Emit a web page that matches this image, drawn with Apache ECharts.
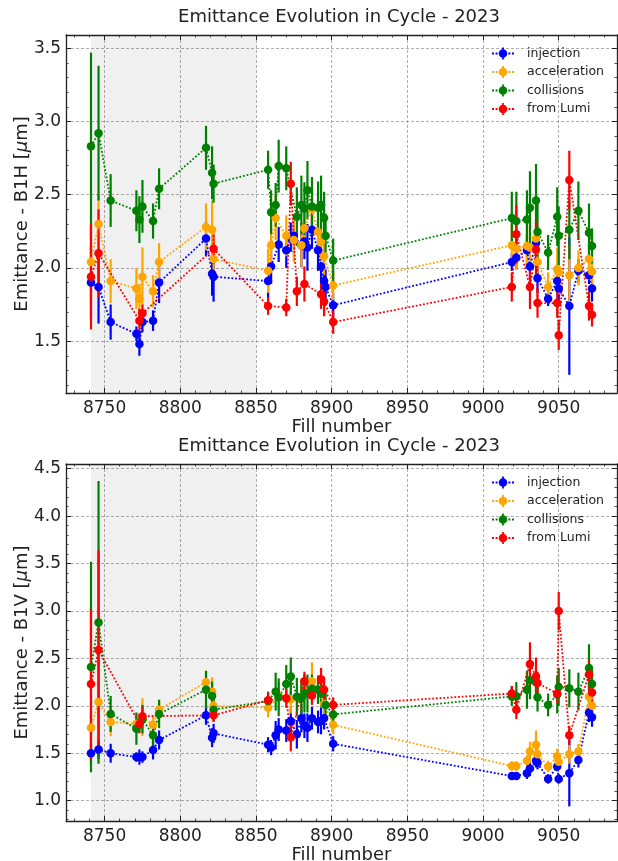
<!DOCTYPE html>
<html><head><meta charset="utf-8">
<script src="https://cdn.jsdelivr.net/npm/echarts@6/dist/echarts.min.js"></script>
<style>html,body{margin:0;padding:0;background:#fff}#c{width:618px;height:861px}</style>
</head><body><div id="c"></div>
<script>
// ---------------- DATA ----------------
const fills = [8741, 8746, 8754, 8771, 8773, 8775, 8782, 8786, 8817, 8821, 8822,
  8858, 8860, 8863, 8865, 8870, 8873, 8875, 8877, 8880, 8882, 8884, 8887, 8891, 8893, 8895, 8896, 8901,
  9019, 9022, 9029, 9031, 9035, 9036, 9043, 9049, 9050, 9057, 9063, 9070, 9072];
const shadeRange = [8741, 8850];
const xTicks = [8750, 8800, 8850, 8900, 8950, 9000, 9050];
const yTicksH = [1.5, 2.0, 2.5, 3.0, 3.5];
const yTicksV = [1.0, 1.5, 2.0, 2.5, 3.0, 3.5, 4.0, 4.5];
const seriesNames = ['injection', 'acceleration', 'collisions', 'from Lumi'];
const titleText = 'Emittance Evolution in Cycle - 2023';

// B1H (top)
const h_injection = [1.90, 1.87, 1.63, 1.55, 1.48, 1.63, 1.64, 1.90, 2.20, 1.96, 1.94,
  1.91, 2.01, null, 2.16, 2.12, 2.21, 2.22, null, 2.155, 2.18, 2.14, 2.26, 2.12, 2.01, 1.91, 1.87, 1.745,
  2.04, 2.07, 2.12, 2.01, 2.17, 1.93, 1.79, 1.91, 1.86, 1.74, 1.98, 1.95, 1.86];
const h_injection_err = [0.25, 0.25, 0.12, 0.05, 0.08, 0.07, 0.07, 0.14, 0.12, 0.15, 0.17,
  0.12, 0.12, null, 0.12, 0.12, 0.10, 0.12, null, 0.15, 0.12, 0.16, 0.13, 0.14, 0.12, 0.10, 0.12, 0.08,
  0.06, 0.08, 0.10, 0.08, 0.10, 0.10, 0.05, 0.06, 0.10, 0.47, 0.08, 0.06, 0.09];
const h_acceleration = [2.04, 2.30, 1.91, 1.86, 1.79, 1.94, 1.84, 2.04, 2.28, 2.26, 2.06,
  1.98, 2.155, 2.34, null, 2.22, null, 2.19, null, 2.155, 2.27, null, 2.40, 2.245, 2.18, 2.08, null, 1.88,
  2.155, 2.13, 2.15, 2.14, 2.20, 2.04, 1.87, 1.99, 1.97, 1.95, 2.00, 2.06, 1.975];
const h_acceleration_err = [0.25, 0.2, 0.15, 0.14, 0.10, 0.20, 0.11, 0.13, 0.16, 0.20, 0.12,
  0.15, 0.15, 0.15, null, 0.14, null, 0.15, null, 0.15, 0.14, null, 0.14, 0.15, 0.14, 0.13, null, 0.10,
  0.14, 0.14, 0.15, 0.15, 0.12, 0.12, 0.10, 0.15, 0.15, 0.20, 0.12, 0.14, 0.12];
const h_collisions = [2.83, 2.92, 2.46, 2.39, 2.33, 2.42, 2.32, 2.54, 2.82, 2.65, 2.575,
  2.67, 2.38, 2.43, 2.695, 2.68, null, null, 2.35, 2.43, 2.405, 2.53, 2.42, 2.41, 2.43, 2.34, 2.22, 2.05,
  2.34, 2.32, 2.33, 2.41, 2.46, 2.245, 2.105, 2.35, 2.22, 2.26, 2.39, 2.24, 2.15];
const h_collisions_err = [0.64, 0.46, 0.18, 0.14, 0.16, 0.18, 0.12, 0.14, 0.15, 0.18, 0.13,
  0.13, 0.15, 0.15, 0.18, 0.15, null, null, 0.20, 0.20, 0.18, 0.20, 0.20, 0.18, 0.20, 0.18, 0.15, 0.15,
  0.18, 0.20, 0.20, 0.25, 0.25, 0.20, 0.12, 0.20, 0.20, 0.20, 0.20, 0.20, 0.12];
const h_lumi = [1.94, 2.10, null, null, 1.64, 1.69, null, null, null, null, 2.13,
  1.74, null, null, null, 1.73, 2.575, null, 1.84, null, 1.89, null, null, null, 1.82, 1.77, null, 1.63,
  1.87, 2.23, null, 1.87, 2.125, 1.76, null, 1.76, 1.54, 2.60, null, 1.74, 1.68];
const h_lumi_err = [0.36, 0.30, null, null, 0.08, 0.06, null, null, null, null, 0.10,
  0.06, null, null, null, 0.06, 0.15, null, 0.10, null, 0.12, null, null, null, 0.10, 0.10, null, 0.08,
  0.10, 0.20, null, 0.15, 0.20, 0.10, null, 0.10, 0.10, 0.20, null, 0.10, 0.08];

// B1V (bottom)
const v_injection = [1.50, 1.54, 1.50, 1.46, 1.46, 1.46, 1.535, 1.64, 1.90, 1.665, 1.71,
  1.59, 1.56, 1.69, 1.75, 1.74, 1.84, null, 1.70, 1.87, 1.79, 1.77, 1.87, 1.83, 1.84, 1.87, null, 1.60,
  1.26, 1.26, 1.29, 1.34, 1.42, 1.40, 1.23, 1.36, 1.23, 1.29, 1.43, 1.93, 1.88];
const v_injection_err = [0.10, 0.10, 0.10, 0.05, 0.08, 0.06, 0.10, 0.10, 0.10, 0.10, 0.10,
  0.08, 0.08, 0.15, 0.12, 0.12, 0.15, null, 0.15, 0.15, 0.13, 0.15, 0.12, 0.12, 0.14, 0.12, null, 0.08,
  0.04, 0.04, 0.06, 0.08, 0.07, 0.07, 0.05, 0.05, 0.05, 0.35, 0.08, 0.10, 0.10];
const v_acceleration = [1.77, 2.04, 1.83, 1.81, null, 1.88, 1.80, 1.96, 2.25, 2.15, 2.00,
  1.98, null, null, 2.10, null, 2.07, null, null, 2.095, null, null, 2.26, 2.17, null, 2.02, null, 1.80,
  1.365, 1.365, 1.42, 1.52, 1.59, 1.49, 1.36, 1.47, 1.41, 1.49, 1.52, 2.095, 2.00];
const v_acceleration_err = [0.20, 0.25, 0.15, 0.10, null, 0.20, 0.10, 0.10, 0.12, 0.15, 0.10,
  0.10, null, null, 0.15, null, 0.15, null, null, 0.15, null, null, 0.20, 0.15, null, 0.15, null, 0.10,
  0.05, 0.05, 0.06, 0.10, 0.15, 0.10, 0.06, 0.08, 0.08, 0.10, 0.08, 0.10, 0.10];
const v_collisions = [2.41, 2.88, 1.915, 1.76, null, 1.86, 1.69, 1.915, 2.17, 2.105, 1.96,
  2.05, null, 2.15, 2.09, 2.23, 2.31, null, 2.095, 2.08, 2.13, 2.13, 2.18, 2.17, 2.13, null, 2.01, 1.91,
  2.10, 2.10, 2.17, 2.27, 2.25, 2.09, 2.01, 2.12, 2.20, 2.185, 2.15, 2.40, 2.23];
const v_collisions_err = [1.11, 1.49, 0.19, 0.17, null, 0.15, 0.12, 0.15, 0.20, 0.15, 0.12,
  0.10, null, 0.20, 0.20, 0.20, 0.20, null, 0.20, 0.20, 0.20, 0.20, 0.15, 0.15, 0.15, null, 0.15, 0.12,
  0.10, 0.15, 0.20, 0.20, 0.15, 0.15, 0.12, 0.20, 0.20, 0.20, 0.20, 0.25, 0.15];
const v_lumi = [2.23, 2.59, null, null, 1.81, 1.89, null, null, null, null, 1.90,
  2.06, null, null, null, 2.08, 1.67, null, null, null, 2.26, null, 2.11, null, 2.28, 2.17, null, 2.01,
  2.13, 1.96, null, 2.44, 2.31, 2.24, null, 2.13, 3.00, 1.69, null, 2.33, 2.14];
const v_lumi_err = [0.79, 1.05, null, null, 0.10, 0.10, null, null, null, null, 0.07,
  0.08, null, null, null, 0.10, 0.15, null, null, null, 0.10, null, 0.10, null, 0.12, 0.12, null, 0.08,
  0.08, 0.10, null, 0.23, 0.20, 0.12, null, 0.10, 0.20, 0.10, null, 0.15, 0.10];

// ---------------- STYLE / LAYOUT ----------------
const colors = ['#0000ff', '#ffa500', '#008000', '#ff0000'];
const FONT = 'DejaVu Sans';
const TXT = '#222';
const xRange = [8724.5, 9088.5];
const yRangeH = [1.146, 3.59];
const yRangeV = [0.786, 4.55];
const grids = [
  {left: 66, top: 35, width: 551, height: 358, outerBoundsMode: 'none', containLabel: false},
  {left: 66, top: 464, width: 551, height: 357, outerBoundsMode: 'none', containLabel: false}
];
const legendIcon = 'path://M0,5h2v2h-2zM3.6,5h2v2h-2zM16.4,5h2v2h-2zM20,5h2v2h-2zM10.1,0h1.8v12h-1.8zM6.7,6a4.3,4.3 0 1,1 8.6,0a4.3,4.3 0 1,1 -8.6,0z';

function near(list, v) { return list.some(t => Math.abs(t - v) < 1e-6); }

function xAxisCfg(gi, pos) {
  const main = pos === 'bottom';
  return {
    type: 'value', gridIndex: gi, position: pos, min: xRange[0], max: xRange[1],
    minInterval: xTicks[1] - xTicks[0], maxInterval: xTicks[1] - xTicks[0], splitNumber: 7,
    axisLine: {show: true, onZero: false, lineStyle: {color: TXT, width: 1.3}},
    axisTick: {show: true, inside: true, length: 5, lineStyle: {color: TXT, width: 1}},
    minorTick: {show: true, splitNumber: 5, length: 2.5, lineStyle: {color: TXT, width: 0.8}},
    axisLabel: {show: main, margin: 7, fontSize: 17, color: TXT, fontFamily: FONT,
      showMinLabel: false, showMaxLabel: false,
      formatter: v => near(xTicks, v) ? String(Math.round(v)) : ''},
    splitLine: {show: main, lineStyle: {color: '#9a9a9a', type: [3, 2], width: 0.8}},
    name: main ? 'Fill number' : '', nameLocation: 'middle', nameGap: 22,
    nameTextStyle: {fontSize: 18, color: TXT, fontFamily: FONT}
  };
}
function yAxisCfg(gi, pos, range, ticks, label) {
  const main = pos === 'left';
  return {
    type: 'value', gridIndex: gi, position: pos, min: range[0], max: range[1],
    minInterval: ticks[1] - ticks[0], maxInterval: ticks[1] - ticks[0], splitNumber: 5,
    axisLine: {show: true, onZero: false, lineStyle: {color: TXT, width: 1.3}},
    axisTick: {show: true, inside: true, length: 5, lineStyle: {color: TXT, width: 1}},
    minorTick: {show: true, splitNumber: 5, length: 2.5, lineStyle: {color: TXT, width: 0.8}},
    axisLabel: {show: main, margin: 5, fontSize: 17, color: TXT, fontFamily: FONT,
      showMinLabel: false, showMaxLabel: false,
      formatter: v => near(ticks, v) ? v.toFixed(1) : ''},
    splitLine: {show: main, lineStyle: {color: '#9a9a9a', type: [3, 2], width: 0.8}},
    name: main ? label : '', nameLocation: 'middle', nameGap: 35, nameRotate: 90,
    nameMoveOverlap: false,
    nameTextStyle: {fontSize: 18, color: TXT, fontFamily: FONT,
      rich: {i: {fontStyle: 'italic', fontSize: 18, color: TXT, fontFamily: FONT}}}
  };
}

const panels = [
  {vals: [h_injection, h_acceleration, h_collisions, h_lumi],
   errs: [h_injection_err, h_acceleration_err, h_collisions_err, h_lumi_err], xi: 0, yi: 0},
  {vals: [v_injection, v_acceleration, v_collisions, v_lumi],
   errs: [v_injection_err, v_acceleration_err, v_collisions_err, v_lumi_err], xi: 2, yi: 2}
];

const series = [];
panels.forEach(p => {
  series.push({
    type: 'line', data: [], xAxisIndex: p.xi, yAxisIndex: p.yi, silent: true,
    markArea: {silent: true, itemStyle: {color: 'rgba(0,0,0,0.058)'},
      data: [[{xAxis: shadeRange[0]}, {xAxis: shadeRange[1]}]]}
  });
  p.vals.forEach((vals, k) => {
    const errs = p.errs[k];
    const col = colors[k];
    const errData = [];
    fills.forEach((f, i) => {
      if (vals[i] != null) errData.push([f, vals[i] - errs[i], vals[i] + errs[i]]);
    });
    series.push({
      type: 'custom', xAxisIndex: p.xi, yAxisIndex: p.yi, silent: true,
      data: errData, encode: {x: 0, y: [1, 2]},
      renderItem: (params, api) => {
        const x = api.value(0);
        const a = api.coord([x, api.value(1)]);
        const b = api.coord([x, api.value(2)]);
        return {type: 'line', shape: {x1: a[0], y1: a[1], x2: b[0], y2: b[1]},
          style: {stroke: col, lineWidth: 2.2}};
      }
    });
    series.push({
      type: 'line', name: seriesNames[k], xAxisIndex: p.xi, yAxisIndex: p.yi, silent: true,
      data: fills.map((f, i) => [f, vals[i]]), connectNulls: true,
      symbol: 'circle', symbolSize: 8.5, showSymbol: true,
      itemStyle: {color: col}, lineStyle: {color: col, width: 1.8, type: [1.8, 1.9]}
    });
  });
});

const legendData = seriesNames.map(n => ({name: n, icon: legendIcon}));
const legendBase = {
  orient: 'vertical', left: 487, itemWidth: 22, itemHeight: 12, itemGap: 5.5,
  selectedMode: false, data: legendData,
  textStyle: {fontSize: 12.5, color: TXT, fontFamily: FONT, padding: [0, 0, 0, 8]}
};

const option = {
  animation: false,
  backgroundColor: '#fff',
  title: [
    {text: titleText, left: 339, top: 8, textAlign: 'center', padding: 0,
     textStyle: {fontSize: 18, fontWeight: 'normal', color: TXT, fontFamily: FONT}},
    {text: titleText, left: 339, top: 437, textAlign: 'center', padding: 0,
     textStyle: {fontSize: 18, fontWeight: 'normal', color: TXT, fontFamily: FONT}}
  ],
  legend: [Object.assign({top: 42}, legendBase), Object.assign({top: 471}, legendBase)],
  grid: grids,
  xAxis: [xAxisCfg(0, 'bottom'), xAxisCfg(0, 'top'), xAxisCfg(1, 'bottom'), xAxisCfg(1, 'top')],
  yAxis: [yAxisCfg(0, 'left', yRangeH, yTicksH, 'Emittance - B1H [{i|μ}m]'), yAxisCfg(0, 'right', yRangeH, yTicksH, ''),
          yAxisCfg(1, 'left', yRangeV, yTicksV, 'Emittance - B1V [{i|μ}m]'), yAxisCfg(1, 'right', yRangeV, yTicksV, '')],
  series: series
};
const chart = echarts.init(document.getElementById('c'));
chart.setOption(option);
</script></body></html>
